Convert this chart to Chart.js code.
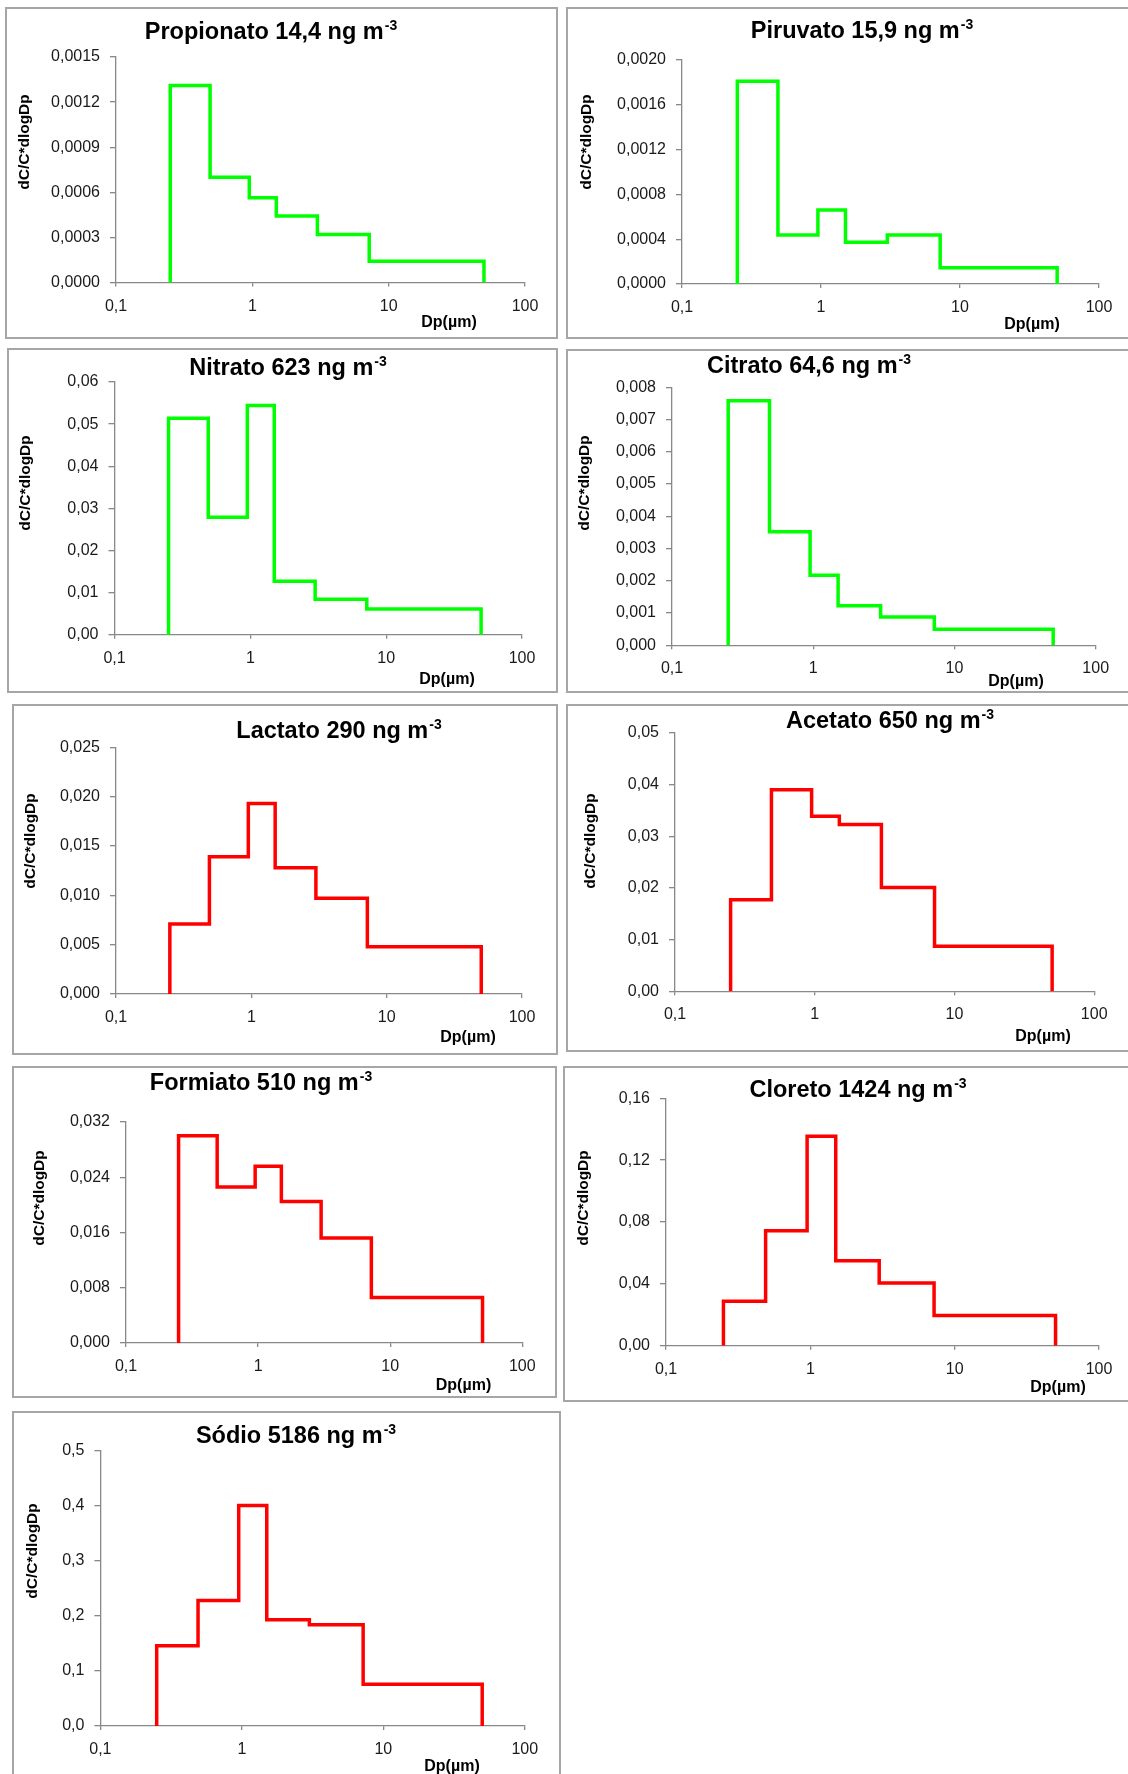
<!DOCTYPE html>
<html>
<head>
<meta charset="utf-8">
<script src="https://cdn.jsdelivr.net/npm/chart.js@4.4.1/dist/chart.umd.min.js"></script>
<style>
  html, body { margin: 0; padding: 0; background: #fff; overflow: hidden; }
  body { width: 1128px; height: 1774px; position: relative; }
  .panel { position: absolute; }
  .panel canvas { position: absolute; left: 0; top: 0; }
  .frame { position: absolute; left: 0; top: 0; right: 0; bottom: 0; border: 2px solid #a6a6a6; box-sizing: border-box; pointer-events: none; }
</style>
</head>
<body>
<script>
// stage cut sizes of the impactor (µm)
const edges = [0.25, 0.49, 0.95, 1.5, 3.0, 7.2, 50];

const species = ['Propionato', 'Piruvato', 'Nitrato', 'Citrato', 'Lactato', 'Acetato', 'Formiato', 'Cloreto', 'Sódio'];
const conc = ['14,4', '15,9', '623', '64,6', '290', '650', '510', '1424', '5186'];
const lineColors = ['#00ff00', '#00ff00', '#00ff00', '#00ff00', '#ff0000', '#ff0000', '#ff0000', '#ff0000', '#ff0000'];

// dC/C*dlogDp per stage
const propionato = [0.00131, 0.00070, 0.000563, 0.000442, 0.000319, 0.000141];
const piruvato = [0.00181, 0.000438, 0.000661, 0.000372, 0.000438, 0.000146];
const nitrato = [0.0514, 0.0279, 0.0544, 0.0127, 0.0084, 0.0061];
const citrato = [0.00758, 0.00352, 0.00217, 0.00123, 0.00088, 0.00050];
const lactato = [0.0071, 0.0139, 0.0193, 0.0128, 0.0097, 0.0048];
const acetato = [0.0177, 0.0390, 0.0339, 0.0323, 0.0201, 0.0087];
const formiato = [0.0300, 0.0226, 0.0256, 0.0205, 0.0152, 0.0066];
const cloreto = [0.0287, 0.0744, 0.1354, 0.0550, 0.0405, 0.0196];
const sodio = [0.146, 0.228, 0.401, 0.193, 0.184, 0.076];
const series = [propionato, piruvato, nitrato, citrato, lactato, acetato, formiato, cloreto, sodio];

const xTickValues = [0.1, 1, 10, 100];
const xTickLabels = ['0,1', '1', '10', '100'];

const yTicksPropionato = ['0,0000', '0,0003', '0,0006', '0,0009', '0,0012', '0,0015'];
const yTicksPiruvato = ['0,0000', '0,0004', '0,0008', '0,0012', '0,0016', '0,0020'];
const yTicksNitrato = ['0,00', '0,01', '0,02', '0,03', '0,04', '0,05', '0,06'];
const yTicksCitrato = ['0,000', '0,001', '0,002', '0,003', '0,004', '0,005', '0,006', '0,007', '0,008'];
const yTicksLactato = ['0,000', '0,005', '0,010', '0,015', '0,020', '0,025'];
const yTicksAcetato = ['0,00', '0,01', '0,02', '0,03', '0,04', '0,05'];
const yTicksFormiato = ['0,000', '0,008', '0,016', '0,024', '0,032'];
const yTicksCloreto = ['0,00', '0,04', '0,08', '0,12', '0,16'];
const yTicksSodio = ['0,0', '0,1', '0,2', '0,3', '0,4', '0,5'];
const yTicks = [yTicksPropionato, yTicksPiruvato, yTicksNitrato, yTicksCitrato, yTicksLactato,
                yTicksAcetato, yTicksFormiato, yTicksCloreto, yTicksSodio];

// page layout: frame box [x,y,w,h], plot area [l,t,r,b], title [cx,baseline], y title [cx,cy], x title [cx,cy]
const layout = [
  { box: [5, 7, 553, 332],     plot: [116, 57, 525, 282.5],     tt: [271, 39],     yt: [25, 142],   xt: [449, 323] },
  { box: [566, 7, 570, 332],   plot: [682, 60, 1099, 284],      tt: [862, 38],     yt: [587, 142],  xt: [1032, 325] },
  { box: [7, 348, 551, 345],   plot: [114.5, 382, 522, 634.7],  tt: [288, 375],    yt: [26, 483],   xt: [447, 680] },
  { box: [566, 349, 570, 344], plot: [672, 387.3, 1095.7, 645.3], tt: [809, 373],  yt: [585, 483],  xt: [1016, 682] },
  { box: [12, 704, 546, 351],  plot: [116, 747.3, 522, 994],    tt: [339, 737.7],  yt: [30.6, 841], xt: [468, 1038] },
  { box: [566, 704, 570, 348], plot: [675, 733, 1094.2, 991.3], tt: [890, 728],    yt: [591, 841],  xt: [1043, 1037] },
  { box: [12, 1066, 545, 332], plot: [126, 1122, 522.3, 1343],  tt: [261, 1090],   yt: [39.6, 1198], xt: [463.5, 1386] },
  { box: [563, 1066, 570, 336], plot: [666, 1098.3, 1099, 1345.7], tt: [858, 1096.7], yt: [584, 1198], xt: [1058, 1388] },
  { box: [12, 1411, 549, 380], plot: [100.4, 1451, 524.8, 1726], tt: [296, 1442.7], yt: [32.4, 1551], xt: [452, 1766.7] }
];

const FONT = '"Liberation Sans", Arial, sans-serif';
const Y_AXIS_W = 80;
const X_AXIS_H = 40;

const textPlugin = {
  id: 'panelText',
  afterDraw(chart, args, o) {
    const ctx = chart.ctx;
    ctx.save();
    ctx.fillStyle = '#000';
    // title with superscript
    ctx.textBaseline = 'alphabetic';
    ctx.textAlign = 'left';
    ctx.font = 'bold 23.5px ' + FONT;
    const mw = ctx.measureText(o.title).width;
    ctx.font = 'bold 14px ' + FONT;
    const sw = ctx.measureText('-3').width;
    const x0 = o.tx - (mw + sw + 1) / 2;
    ctx.font = 'bold 23.5px ' + FONT;
    ctx.fillText(o.title, x0, o.ty);
    ctx.font = 'bold 14px ' + FONT;
    ctx.fillText('-3', x0 + mw + 1, o.ty - 9);
    // x title
    ctx.font = 'bold 16px ' + FONT;
    ctx.textAlign = 'center';
    ctx.textBaseline = 'middle';
    ctx.fillText('Dp(µm)', o.xx, o.xy);
    // y title
    ctx.translate(o.yx, o.yy);
    ctx.rotate(-Math.PI / 2);
    ctx.font = 'bold 15.5px ' + FONT;
    ctx.fillText('dC/C*dlogDp', 0, 0);
    ctx.restore();
  }
};

function toNum(s) { return parseFloat(s.replace(',', '.')); }

series.forEach((vals, k) => {
  const L = layout[k];
  const [bx, by, bw, bh] = L.box;
  const [pl, pt, pr, pb] = L.plot;

  const div = document.createElement('div');
  div.className = 'panel';
  div.style.left = bx + 'px';
  div.style.top = by + 'px';
  div.style.width = bw + 'px';
  div.style.height = bh + 'px';
  const cv = document.createElement('canvas');
  cv.width = bw;
  cv.height = bh;
  div.appendChild(cv);
  const fr = document.createElement('div');
  fr.className = 'frame';
  div.appendChild(fr);
  document.body.appendChild(div);

  // step outline: up at first edge, across each stage, down at last edge
  const pts = [{ x: edges[0], y: 0 }];
  vals.forEach((v, i) => pts.push({ x: edges[i], y: v }));
  pts.push({ x: edges[edges.length - 1], y: 0 });

  const yl = yTicks[k];

  new Chart(cv, {
    type: 'line',
    data: {
      datasets: [{
        data: pts,
        borderColor: lineColors[k],
        borderWidth: 3.5,
        pointRadius: 0,
        fill: false,
        stepped: true,
        borderJoinStyle: 'miter',
        borderCapStyle: 'butt'
      }]
    },
    options: {
      responsive: false,
      animation: false,
      devicePixelRatio: 1,
      layout: {
        padding: {
          left: (pl - bx) - Y_AXIS_W,
          top: pt - by,
          right: (bx + bw) - pr,
          bottom: (by + bh) - pb - X_AXIS_H
        }
      },
      plugins: {
        legend: { display: false },
        tooltip: { enabled: false },
        panelText: {
          title: species[k] + ' ' + conc[k] + ' ng m',
          tx: L.tt[0] - bx, ty: L.tt[1] - by,
          xx: L.xt[0] - bx, xy: L.xt[1] - by,
          yx: L.yt[0] - bx, yy: L.yt[1] - by
        }
      },
      scales: {
        x: {
          type: 'logarithmic',
          position: 'bottom',
          min: 0.1,
          max: 100,
          afterBuildTicks: s => { s.ticks = xTickValues.map(v => ({ value: v })); },
          afterFit: s => { s.height = X_AXIS_H; },
          ticks: {
            callback: (v, i) => xTickLabels[i],
            font: { family: FONT, size: 16 },
            color: '#1a1a1a',
            padding: 10,
            maxRotation: 0,
            autoSkip: false
          },
          grid: { drawOnChartArea: false, tickLength: 4, color: '#888', lineWidth: 1.3 },
          border: { color: '#888', width: 1.3 }
        },
        y: {
          type: 'linear',
          min: 0,
          max: toNum(yl[yl.length - 1]),
          afterBuildTicks: s => { s.ticks = yl.map(t => ({ value: toNum(t) })); },
          afterFit: s => { s.width = Y_AXIS_W; },
          ticks: {
            callback: (v, i) => yl[i],
            font: { family: FONT, size: 16 },
            color: '#1a1a1a',
            padding: 10
          },
          grid: { drawOnChartArea: false, tickLength: 6, color: '#888', lineWidth: 1.3 },
          border: { color: '#888', width: 1.3 }
        }
      }
    },
    plugins: [textPlugin]
  });
});
</script>
</body>
</html>
